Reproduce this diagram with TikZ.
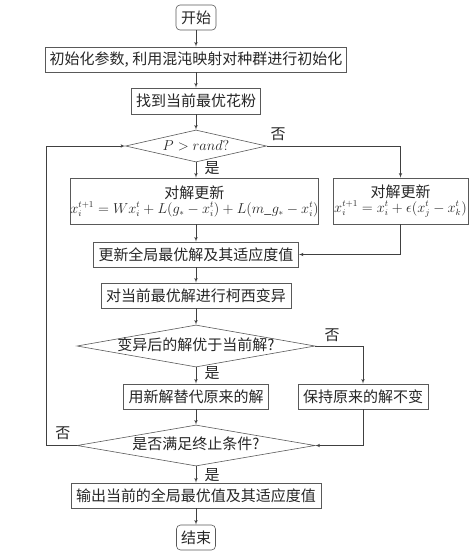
\documentclass[tikz,border=0pt]{standalone}
\usepackage{amsmath}
\usepackage{fontspec}
\setmainfont{Noto Sans CJK SC}
\usepackage{tikz}
\usetikzlibrary{arrows}
\usetikzlibrary{positioning}
\usetikzlibrary{shapes.geometric}
\tikzset{arr/.style = {-latex', draw = black!75, line width = 0.6pt}}
\tikzset{box/.style = {draw = black!65, line width = 0.6pt, rectangle, inner sep = 0,
                       text = black!85, font = \fontsize{15}{18}\selectfont}}
\tikzset{term/.style = {box, rounded corners = 4}}
\tikzset{cond/.style = {box, diamond, text height = 10pt, text depth = 2pt}}
\tikzset{tag/.style = {text = black!85, font = \fontsize{15}{18}\selectfont, inner sep = 0}}
\newcommand{\formula}[1]{{\fontsize{13.5}{16}\selectfont $#1$}}

\begin{document}
\begin{tikzpicture}[x=1pt, y=-1pt]
    \useasboundingbox (0, 0) rectangle (473, 558);

    \node [term, minimum width = 40, minimum height = 25] (start) at (196, 17.5) {开始};
    \node [box, minimum width = 301, minimum height = 25] (init) at (196, 59.5) {初始化参数, 利用混沌映射对种群进行初始化};
    \node [box, minimum width = 129, minimum height = 26] (best) at (196, 101) {找到当前最优花粉};
    \node [cond, aspect = 6.2, minimum width = 135, minimum height = 32] (test) at (196, 146) {$P>rand?$};
    \node [box, minimum width = 243, minimum height = 46, align = center] (updl) at (194.5, 201)
        {对解更新\\[-3pt] \formula{x_i^{t+1}=Wx_i^t+L(g_*-x_i^t)+L(m\_g_*-x_i^t)}};
    \node [box, minimum width = 135, minimum height = 46, align = center] (updr) at (400.5, 201)
        {对解更新\\[-3pt] \formula{x_i^{t+1}=x_i^t+\epsilon(x_j^t-x_k^t)}};
    \node [box, minimum width = 205, minimum height = 25] (glob) at (196, 254.5) {更新全局最优解及其适应度值};
    \node [box, minimum width = 190, minimum height = 25] (cauchy) at (196, 295.5) {对当前最优解进行柯西变异};
    \node [cond, aspect = 6.7, minimum width = 238, minimum height = 42] (better) at (196, 346) {变异后的解优于当前解?};
    \node [box, minimum width = 145, minimum height = 25] (repl) at (196, 396.5) {用新解替代原来的解};
    \node [box, minimum width = 130, minimum height = 25] (keep) at (363, 396.5) {保持原来的解不变};
    \node [cond, aspect = 9.2, minimum width = 238, minimum height = 41] (stop) at (196, 445.5) {是否满足终止条件?};
    \node [box, minimum width = 250, minimum height = 25] (out) at (196, 495.5) {输出当前的全局最优值及其适应度值};
    \node [term, minimum width = 39, minimum height = 25] (end) at (196, 537.5) {结束};
    \coordinate (back) at (46, 445.5);

    \draw [arr] (start) -- (init);
    \draw [arr] (init) -- (best);
    \draw [arr] (best) -- (test);
    \draw [arr] (test.south) -- (test.south |- updl.north);
    \draw [arr] (test.east) -| (updr.north);
    \draw [arr] (updl.south -| glob.north) -- (glob);
    \draw [arr] (updr.south) |- (glob.east);
    \draw [arr] (glob) -- (cauchy);
    \draw [arr] (cauchy) -- (better);
    \draw [arr] (better) -- (repl);
    \draw [arr] (better.east) -| (keep.north);
    \draw [arr] (repl) -- (stop);
    \draw [arr] (keep.south) |- (stop.east);
    \draw [arr] (stop) -- (out);
    \draw [arr] (out) -- (end);
    \draw [arr] (stop.west) -- (back) |- (test.west);

    \node [tag] (no1) at (278, 134) {否};
    \node [tag] (yes1) at (212, 168) {是};
    \node [tag] (no2) at (332, 335) {否};
    \node [tag] (yes2) at (212, 373) {是};
    \node [tag] (no3) at (63, 433) {否};
    \node [tag] (yes3) at (212, 475) {是};
  \end{tikzpicture}
\end{document}
